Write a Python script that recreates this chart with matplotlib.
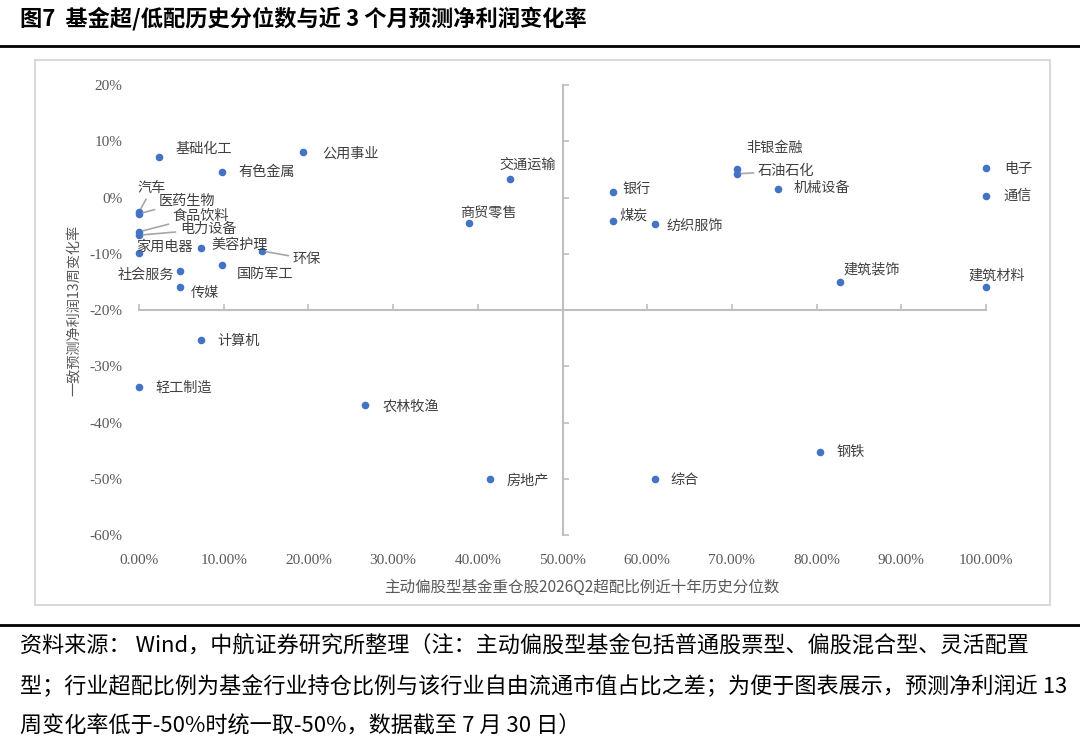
import matplotlib
matplotlib.use("Agg")
import matplotlib.pyplot as plt
from matplotlib.lines import Line2D
from matplotlib.patches import Rectangle
from matplotlib.ticker import FuncFormatter, MultipleLocator

plt.rcParams['font.family'] = ['Noto Sans CJK SC', 'DejaVu Sans']

# 行业、超配比例历史分位数、一致预测净利润13周变化率
industries = ["基础化工", "公用事业", "有色金属", "汽车", "医药生物", "食品饮料", "电力设备",
              "家用电器", "美容护理", "环保", "国防军工", "社会服务", "传媒", "计算机",
              "轻工制造", "农林牧渔", "房地产", "交通运输", "商贸零售", "银行", "煤炭",
              "纺织服饰", "非银金融", "石油石化", "机械设备", "电子", "通信", "建筑装饰",
              "建筑材料", "钢铁", "综合"]
pct_rank = [0.024, 0.194, 0.098, 0.0, 0.0, 0.0, 0.0,
            0.0, 0.073, 0.145, 0.098, 0.048, 0.048, 0.073,
            0.0, 0.267, 0.414, 0.438, 0.390, 0.560, 0.560,
            0.609, 0.706, 0.706, 0.755, 1.0, 1.0, 0.828,
            1.0, 0.804, 0.609]
profit_chg = [0.072, 0.081, 0.045, -0.026, -0.029, -0.061, -0.067,
              -0.099, -0.090, -0.095, -0.120, -0.131, -0.159, -0.253,
              -0.337, -0.369, -0.500, 0.033, -0.045, 0.010, -0.042,
              -0.047, 0.051, 0.042, 0.015, 0.052, 0.003, -0.150,
              -0.159, -0.452, -0.500]

# label offsets in pixels (dx, dy) and whether a leader line is drawn
label_off = {
    "基础化工": (44, 8), "公用事业": (47, -2), "有色金属": (45, 0),
    "汽车": (13, 24), "医药生物": (48, 13), "食品饮料": (62, 16), "电力设备": (69, 6),
    "家用电器": (25, 6), "美容护理": (39, 3), "环保": (45, -8), "国防军工": (43, -9),
    "社会服务": (-34, -4), "传媒": (25, -6), "计算机": (38, -1), "轻工制造": (45, -1),
    "农林牧渔": (46, -2), "房地产": (38, -2), "交通运输": (18, 14), "商贸零售": (19, 10),
    "银行": (23, 3), "煤炭": (20, 6), "纺织服饰": (40, -2), "非银金融": (37, 21),
    "石油石化": (49, 3), "机械设备": (43, 1), "电子": (32, -1), "通信": (32, 0),
    "建筑装饰": (31, 12), "建筑材料": (11, 11), "钢铁": (31, 0), "综合": (30, -1),
}
leaders = {"汽车", "医药生物", "食品饮料", "电力设备", "环保", "石油石化"}

title = "图7  基金超/低配历史分位数与近 3 个月预测净利润变化率"
xlabel = "主动偏股型基金重仓股2026Q2超配比例近十年历史分位数"
ylabel = "一致预测净利润13周变化率"
source_lines = [
    "资料来源： Wind，中航证券研究所整理（注：主动偏股型基金包括普通股票型、偏股混合型、灵活配置",
    "型；行业超配比例为基金行业持仓比例与该行业自由流通市值占比之差；为便于图表展示，预测净利润近 13",
    "周变化率低于-50%时统一取-50%，数据截至 7 月 30 日）",
]

W, H = 1080, 747
fig = plt.figure(figsize=(W / 100, H / 100), dpi=100)
fig.patch.set_facecolor("white")

# chart frame
fig.add_artist(Rectangle((35 / W, 1 - 605 / H), 1015 / W, 545 / H, transform=fig.transFigure,
                         fill=False, ec="#D9D9D9", lw=1.5))

ax = fig.add_axes([139 / W, 1 - 535 / H, 847 / W, 450 / H])
ax.set_xlim(0, 1)
ax.set_ylim(-0.6, 0.2)

axis_col = "#BFBFBF"
for s in ("top", "right"):
    ax.spines[s].set_visible(False)
ax.spines["left"].set_position(("data", 0.5))
ax.spines["bottom"].set_position(("data", -0.2))
for s in ("left", "bottom"):
    ax.spines[s].set_color(axis_col)
    ax.spines[s].set_linewidth(1.5)
ax.xaxis.set_major_locator(MultipleLocator(0.1))
ax.yaxis.set_major_locator(MultipleLocator(0.1))
ax.tick_params(axis="both", direction="in", length=4, width=1.2, color=axis_col,
               labelleft=False, labelbottom=False)

tick_font = dict(family=["Liberation Serif", "DejaVu Serif"], size=11, color="#595959")
secx = ax.secondary_xaxis("bottom")
secx.set_xticks([i / 10 for i in range(11)])
secx.xaxis.set_major_formatter(FuncFormatter(lambda v, p: f"{v * 100:.2f}%"))
secx.tick_params(length=0, pad=14)
secx.spines["bottom"].set_visible(False)
for t in secx.get_xticklabels():
    t.set(**tick_font)
secy = ax.secondary_yaxis("left")
secy.set_yticks([i / 10 for i in range(-6, 3)])
secy.yaxis.set_major_formatter(FuncFormatter(lambda v, p: f"{v * 100:.0f}%"))
secy.tick_params(length=0, pad=12)
secy.spines["left"].set_visible(False)
for t in secy.get_yticklabels():
    t.set(**tick_font)

secx.set_xlabel(xlabel, fontsize=11.2, color="#595959", labelpad=8, x=0.523)
secy.set_ylabel(ylabel, fontsize=10.2, color="#595959", labelpad=6)

ax.scatter(pct_rank, profit_chg, s=20, color="#4472C4", zorder=3, clip_on=False)

for name, x, y in zip(industries, pct_rank, profit_chg):
    dx, dy = label_off[name]
    kw = {}
    if name in leaders:
        kw["arrowprops"] = dict(arrowstyle="-", color="#A6A6A6", lw=1.2, shrinkA=1, shrinkB=3)
    ax.annotate(name, xy=(x, y), xytext=(dx, dy), textcoords="offset pixels",
                ha="center", va="center", fontsize=10.2, color="#404040", **kw)

# title and source
fig.text(20 / W, 1 - 19 / H, title, fontsize=16, fontweight="bold", va="center", ha="left",
         color="black")
fig.add_artist(Line2D([0, 1], [1 - 46 / H, 1 - 46 / H], transform=fig.transFigure,
                      color="black", lw=2))
fig.add_artist(Line2D([0, 1], [1 - 625 / H, 1 - 625 / H], transform=fig.transFigure,
                      color="black", lw=2))
for i, line in enumerate(source_lines):
    fig.text(20 / W, 1 - (647 + i * 40) / H, line, fontsize=15.9, va="center", ha="left",
             color="black")

fig.savefig("out.png", dpi=100)
